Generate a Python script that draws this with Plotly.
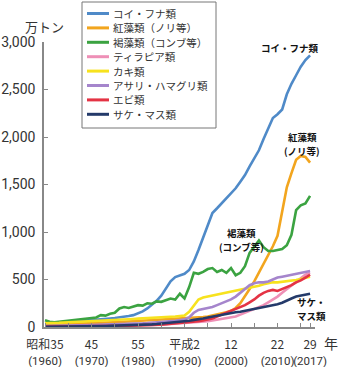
import plotly.graph_objects as go

years = list(range(1960, 2018))

names = ["コイ・フナ類", "紅藻類（ノリ等）", "褐藻類（コンブ等）", "ティラピア類",
         "カキ類", "アサリ・ハマグリ類", "エビ類", "サケ・マス類"]
colors = ["#4f8ac8", "#f2a51e", "#3ba341", "#ee8fb6",
          "#f7e21e", "#a585cc", "#e43344", "#243a6a"]

koi_funa = [40,42,45,48,50,55,58,60,65,68, 72,75,80,85,90,95,100,108,115,125,
            145,165,195,235,275,330,410,480,525,540, 560,600,690,810,940,1090,1200,1250,1300,1350,
            1400,1460,1530,1600,1690,1770,1860,1980,2100,2200, 2240,2290,2450,2560,2650,2740,2810,2860]
kouso = [25,25,28,30,30,32,35,35,38,40, 40,42,45,45,48,50,52,55,58,60,
         62,65,68,70,72,75,78,80,82,85, 88,90,95,100,105,110,120,130,140,155,
         170,200,250,320,400,480,570,670,760,850, 960,1200,1470,1620,1760,1800,1790,1730]
kasso = [70,55,50,55,60,65,70,75,85,90, 95,100,125,120,140,150,195,210,200,215,
         230,225,250,245,270,265,280,300,290,350, 300,420,570,560,580,610,620,580,600,570,
         620,545,570,640,780,850,910,840,800,800, 810,820,860,970,1230,1280,1300,1380]
tilapia = [2,2,2,3,3,3,4,4,5,5, 6,6,7,8,9,10,11,12,13,14,
           15,17,19,21,23,25,28,31,34,37, 40,43,46,50,55,60,68,76,84,92,
           100,110,130,150,170,190,210,230,260,290, 320,360,400,440,480,520,550,570]
kaki = [40,40,42,45,48,50,52,55,58,60, 62,65,68,70,72,75,78,80,82,85,
        88,90,92,95,98,100,103,106,110,115, 120,160,230,290,310,320,330,340,350,360,
        370,380,390,400,410,420,435,450,460,470, 470,475,480,490,495,505,515,530]
asari = [10,10,11,12,13,15,16,17,18,19, 20,21,22,23,24,25,27,29,31,33,
         35,38,41,44,47,50,55,60,66,72, 80,100,150,180,190,200,210,230,250,270,
         290,320,360,400,440,460,470,470,480,500, 520,530,540,550,555,565,580,590]
ebi = [5,5,5,6,6,6,7,7,7,8, 8,9,9,10,10,11,12,13,14,15,
       15,17,19,21,23,25,29,33,37,41, 45,50,56,62,70,80,90,110,130,150,
       170,190,210,230,260,290,330,360,380,390, 380,400,420,440,470,490,520,550]
sake_masu = [3,3,3,4,4,4,5,5,6,7, 8,9,10,11,12,13,14,16,18,19,
             20,22,25,28,31,35,40,45,50,55, 60,65,75,80,90,100,110,120,130,140,
             150,155,160,170,180,190,195,205,215,225, 240,255,280,300,320,330,335,350]

series = [koi_funa, kouso, kasso, tilapia, kaki, asari, ebi, sake_masu]

tick_years = [1960, 1970, 1980, 1990, 2000, 2010, 2017]
tick_era = ["昭和35", "45", "55", "平成2", "12", "22", "29"]
tick_ad = ["(1960)", "(1970)", "(1980)", "(1990)", "(2000)", "(2010)", "(2017)"]
y_ticks = [0, 500, 1000, 1500, 2000, 2500, 3000]
y_text = ["0", "500", "1,000", "1,500", "2,000", "2,500", "3,000"]

FONT = "Noto Sans CJK JP"
NUMFONT = "Roboto"
W, H = 341, 367
ML, MR, MT, MB = 44, 26, 42, 40
PW, PH = W - ML - MR, H - MT - MB
XR = [1959.78, 2018.06]


def px(x):
    return (x - ML) / PW


def py(y):
    return (H - MB - y) / PH


fig = go.Figure()
for name, col, vals in zip(names, colors, series):
    fig.add_trace(go.Scatter(x=years, y=vals, mode="lines", name=name,
                             line=dict(color=col, width=2.6), showlegend=False))
# invisible trace to activate the second (year) tick row
fig.add_trace(go.Scatter(x=[years[0]], y=[koi_funa[0]], xaxis="x2", mode="lines",
                         line=dict(width=0), hoverinfo="skip", showlegend=False))

# manual legend
shapes = [dict(type="rect", xref="paper", yref="paper",
               x0=px(82), x1=px(216), y0=py(128), y1=py(2),
               line=dict(color="#777", width=1), fillcolor="white", layer="below")]
annotations = []
for i, (name, col) in enumerate(zip(names, colors)):
    yc = 13.5 + i * 14.4
    shapes.append(dict(type="line", xref="paper", yref="paper",
                       x0=px(87), x1=px(109), y0=py(yc), y1=py(yc),
                       line=dict(color=col, width=3)))
    annotations.append(dict(xref="paper", yref="paper", x=px(112), y=py(yc),
                            text=name, showarrow=False, xanchor="left", yanchor="middle",
                            borderpad=0,
                            font=dict(family=FONT, size=10.5, color="#333")))

# labels
lab_font = dict(family=FONT, size=9.5, color="#111")


def label(x, y, text, font):
    return dict(xref="paper", yref="paper", x=px(x), y=py(y), text=text, showarrow=False,
                xanchor="center", yanchor="middle", borderpad=0, font=font)


annotations += [
    label(44, 26, "万トン", dict(family=FONT, size=13, color="#333")),
    label(331, 343, "年", dict(family=FONT, size=14, color="#333")),
    label(290, 48, "<b>コイ・フナ類</b>", lab_font),
    label(302, 136.5, "<b>紅藻類</b>", lab_font),
    label(302, 150.5, "<b>(ノリ等)</b>", lab_font),
    label(241, 233, "<b>褐藻類</b>", lab_font),
    label(241, 247, "<b>(コンブ等)</b>", lab_font),
    label(311, 302, "<b>サケ・</b>", lab_font),
    label(311, 316, "<b>マス類</b>", lab_font),
]

fig.update_layout(
    width=W, height=H,
    margin=dict(l=ML, r=MR, t=MT, b=MB, pad=0, autoexpand=False),
    paper_bgcolor="white", plot_bgcolor="white",
    font=dict(family=FONT, color="#333"),
    shapes=shapes, annotations=annotations,
    xaxis=dict(range=XR, tickmode="array", tickvals=tick_years,
               ticktext=tick_era, tickangle=0, automargin=False,
               ticks="inside", ticklen=4, tickcolor="#888",
               showline=True, linecolor="#888", linewidth=1.5, showgrid=False,
               zeroline=False, tickfont=dict(family=FONT, size=12, color="#333"),
               ticklabelstandoff=6,
               minor=dict(dtick=5, tick0=1960, ticks="inside", ticklen=4, tickcolor="#888",
                          showgrid=False)),
    xaxis2=dict(range=XR, overlaying="x", side="bottom", anchor="y", tickmode="array",
                tickvals=tick_years, ticktext=tick_ad, tickangle=0, automargin=False,
                ticks="", showline=False, showgrid=False, zeroline=False,
                ticklabelstandoff=25,
                tickfont=dict(family=NUMFONT, size=11.5, color="#333")),
    yaxis=dict(range=[0, 3000], tickvals=y_ticks, ticktext=y_text,
               automargin=False,
               ticks="inside", ticklen=4, tickcolor="#888", showline=True,
               linecolor="#888", linewidth=1.5, showgrid=False, zeroline=False,
               ticklabelstandoff=4,
               tickfont=dict(family=NUMFONT, size=14, color="#333")),
)

fig.write_html("out.html")
